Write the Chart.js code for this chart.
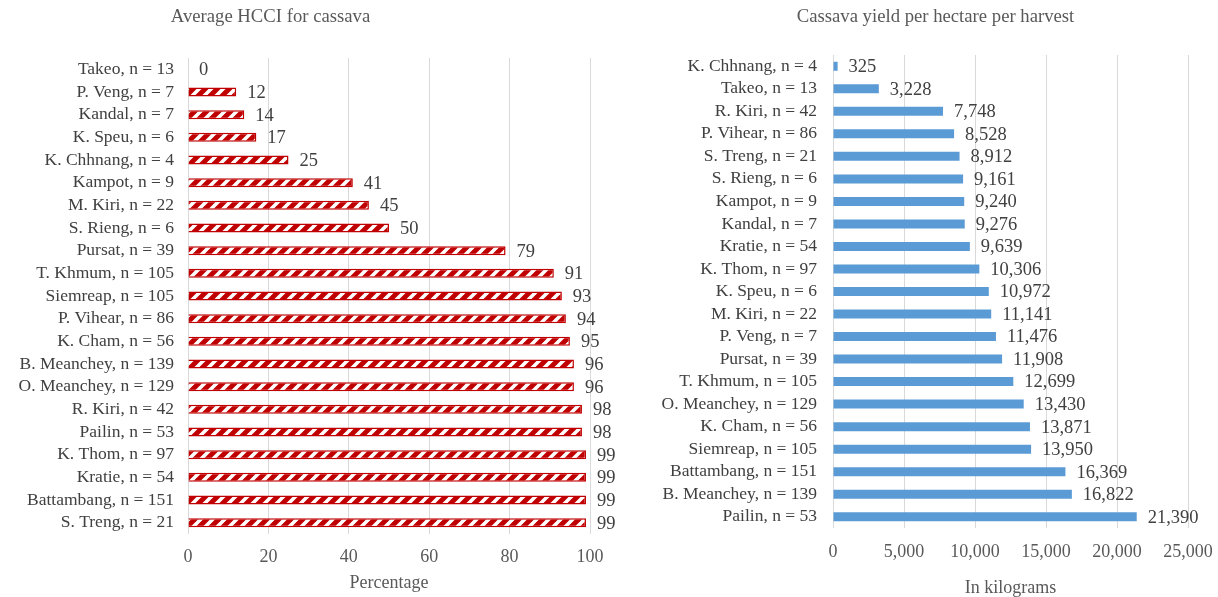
<!DOCTYPE html>
<html>
<head>
<meta charset="utf-8">
<script src="https://cdn.jsdelivr.net/npm/chart.js@4"></script>
<style>
  body { margin: 0; background: #fff; width: 1218px; height: 597px; overflow: hidden; position: relative; }
  .box { position: absolute; top: 0; height: 597px; }
  #hcciBox { left: 0; width: 620px; }
  #yieldBox { left: 620px; width: 598px; }
</style>
</head>
<body>
<div class="box" id="hcciBox"><canvas id="hcci"></canvas></div>
<div class="box" id="yieldBox"><canvas id="yield"></canvas></div>
<script>
// left panel: average HCCI (percent)
const hcciProvinces = ['Takeo, n = 13', 'P. Veng, n = 7', 'Kandal, n = 7', 'K. Speu, n = 6', 'K. Chhnang, n = 4',
  'Kampot, n = 9', 'M. Kiri, n = 22', 'S. Rieng, n = 6', 'Pursat, n = 39', 'T. Khmum, n = 105',
  'Siemreap, n = 105', 'P. Vihear, n = 86', 'K. Cham, n = 56', 'B. Meanchey, n = 139', 'O. Meanchey, n = 129',
  'R. Kiri, n = 42', 'Pailin, n = 53', 'K. Thom, n = 97', 'Kratie, n = 54', 'Battambang, n = 151', 'S. Treng, n = 21'];
const hcciValues = [0, 12, 14, 17, 25, 41, 45, 50, 79, 91, 93, 94, 95, 96, 96, 98, 98, 99, 99, 99, 99];
const hcciTicks = [0, 20, 40, 60, 80, 100];

// right panel: yield per hectare per harvest (kg)
const yieldProvinces = ['K. Chhnang, n = 4', 'Takeo, n = 13', 'R. Kiri, n = 42', 'P. Vihear, n = 86', 'S. Treng, n = 21',
  'S. Rieng, n = 6', 'Kampot, n = 9', 'Kandal, n = 7', 'Kratie, n = 54', 'K. Thom, n = 97', 'K. Speu, n = 6',
  'M. Kiri, n = 22', 'P. Veng, n = 7', 'Pursat, n = 39', 'T. Khmum, n = 105', 'O. Meanchey, n = 129',
  'K. Cham, n = 56', 'Siemreap, n = 105', 'Battambang, n = 151', 'B. Meanchey, n = 139', 'Pailin, n = 53'];
const yieldValues = [325, 3228, 7748, 8528, 8912, 9161, 9240, 9276, 9639, 10306, 10972, 11141, 11476, 11908,
  12699, 13430, 13871, 13950, 16369, 16822, 21390];
const yieldTicks = [0, 5000, 10000, 15000, 20000, 25000];

const FONT = '"Liberation Serif", "Times New Roman", serif';
const fmt = v => Math.round(v).toLocaleString('en-US');

// red/white diagonal hatch like the Excel pattern fill
function hatch() {
  const c = document.createElement('canvas');
  c.width = 12; c.height = 12;
  const g = c.getContext('2d');
  g.fillStyle = '#C00000';
  g.fillRect(0, 0, 12, 12);
  g.strokeStyle = '#fff';
  g.lineWidth = 3.6;
  g.beginPath();
  g.moveTo(-3, 15); g.lineTo(15, -3);
  g.moveTo(-9, 9); g.lineTo(9, -9);
  g.moveTo(3, 21); g.lineTo(21, 3);
  g.stroke();
  return g.createPattern(c, 'repeat');
}

const valueLabels = {
  id: 'valueLabels',
  afterDatasetsDraw(chart) {
    const ctx = chart.ctx;
    ctx.save();
    ctx.font = '18.5px ' + FONT;
    ctx.fillStyle = '#404040';
    ctx.textAlign = 'left';
    ctx.textBaseline = 'middle';
    chart.getDatasetMeta(0).data.forEach((bar, i) => {
      ctx.fillText(fmt(chart.data.datasets[0].data[i]), bar.x + 11, bar.y + 1);
    });
    ctx.restore();
  }
};

// chart heading, centred where Excel put it rather than on the canvas
const headline = {
  id: 'headline',
  afterDraw(chart, args, opts) {
    const ctx = chart.ctx;
    ctx.save();
    ctx.font = '18.7px ' + FONT;
    ctx.fillStyle = '#595959';
    ctx.textAlign = 'center';
    ctx.textBaseline = 'middle';
    ctx.fillText(opts.text, opts.x, opts.y);
    ctx.restore();
  }
};

function makeChart(id, o) {
  return new Chart(document.getElementById(id), {
    type: 'bar',
    data: {
      labels: o.labels,
      datasets: [{
        data: o.values,
        backgroundColor: o.fill,
        borderColor: o.border,
        borderWidth: o.borderWidth,
        barPercentage: 0.4,
        categoryPercentage: 1
      }]
    },
    options: {
      indexAxis: 'y',
      responsive: true,
      maintainAspectRatio: false,
      animation: false,
      layout: { padding: { left: 0, right: o.right, top: o.top, bottom: 0 } },
      plugins: {
        legend: { display: false },
        tooltip: { enabled: false },
        title: { display: false },
        headline: { text: o.title, x: o.titleX, y: 17 }
      },
      scales: {
        x: {
          min: 0,
          max: o.ticks[o.ticks.length - 1],
          afterBuildTicks: s => { s.ticks = o.ticks.map(v => ({ value: v })); },
          afterFit: s => { s.height = o.xHeight; s.paddingRight = 0; },
          grid: { color: '#d9d9d9', lineWidth: 1, drawTicks: false },
          border: { display: false },
          ticks: {
            color: '#595959',
            padding: o.tickPad,
            maxRotation: 0,
            font: { family: FONT, size: 18 },
            callback: v => fmt(v)
          },
          title: {
            display: true,
            text: o.axisTitle,
            color: '#595959',
            font: { family: FONT, size: 18, lineHeight: 1 },
            padding: { top: 0, bottom: o.axisTitlePad }
          }
        },
        y: {
          afterFit: s => { s.width = o.yWidth; },
          grid: { display: false, drawTicks: false },
          border: { display: false },
          ticks: {
            color: '#404040',
            padding: o.labelPad,
            autoSkip: false,
            font: { family: FONT, size: 17.5, lineHeight: 1 }
          }
        }
      }
    },
    plugins: [valueLabels, headline]
  });
}

makeChart('hcci', {
  labels: hcciProvinces, values: hcciValues, ticks: hcciTicks,
  fill: hatch(), border: '#C00000', borderWidth: 1.5,
  title: 'Average HCCI for cassava', titleX: 270.5, axisTitle: 'Percentage',
  top: 58, right: 30, yWidth: 188, xHeight: 63, tickPad: 12.2, axisTitlePad: 5, labelPad: 14
});

makeChart('yield', {
  labels: yieldProvinces, values: yieldValues, ticks: yieldTicks,
  fill: '#5B9BD5', border: '#5B9BD5', borderWidth: 0,
  title: 'Cassava yield per hectare per harvest', titleX: 315.5, axisTitle: 'In kilograms',
  top: 55, right: 30, yWidth: 213, xHeight: 69, tickPad: 13.2, axisTitlePad: 0, labelPad: 16
});
</script>
</body>
</html>
